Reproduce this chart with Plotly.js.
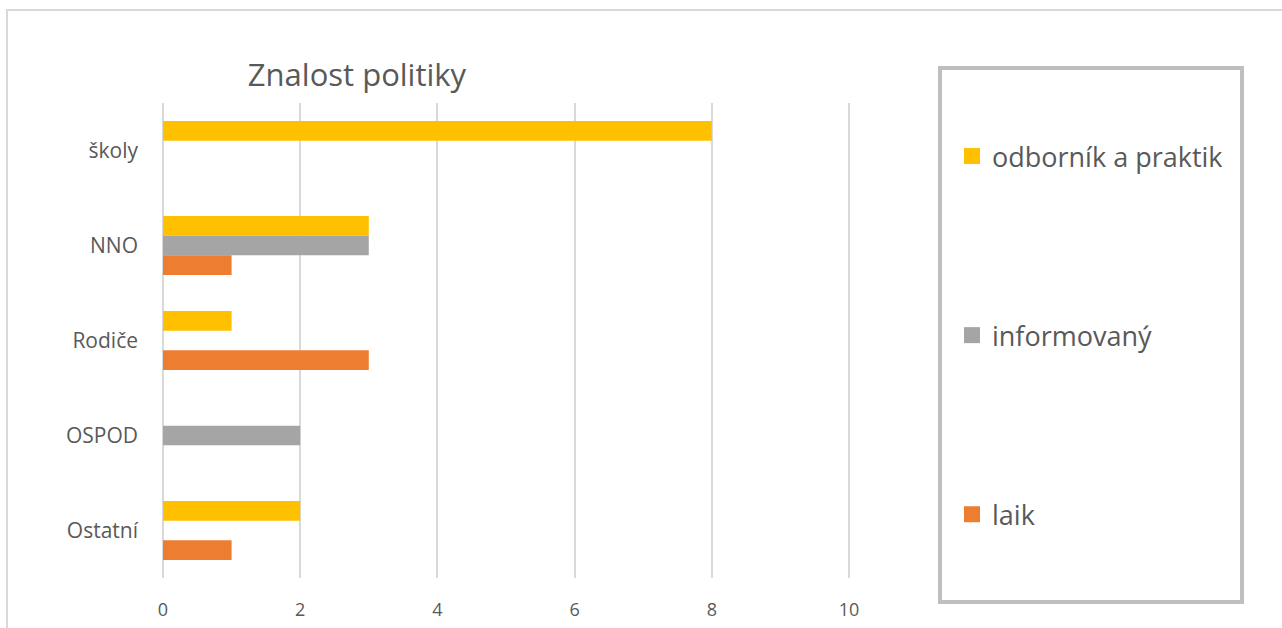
<!DOCTYPE html>
<html>
<head>
<meta charset="utf-8">
<script src="https://cdn.plot.ly/plotly-3.0.1.min.js"></script>
<style>html,body{margin:0;padding:0;background:#fff;}#chart{width:1282px;height:628px;}</style>
</head>
<body>
<div id="chart"></div>
<script>
const categories = ["školy", "NNO", "Rodiče", "OSPOD", "Ostatní"];
const seriesNames = ["odborník a praktik", "informovaný", "laik"];
const odbornik = [8, 3, 1, null, 2];
const informovany = [null, 3, null, 2, null];
const laik = [null, 1, 3, null, 1];
const seriesColors = ["#FFC000", "#A5A5A5", "#ED7D31"];
const xTicks = [0, 2, 4, 6, 8, 10];
const chartTitle = "Znalost politiky";

const seriesValues = [odbornik, informovany, laik];
const FONT = "Open Sans, Liberation Sans, sans-serif";

const traces = [];
seriesValues.forEach((vals, i) => {
  traces.push({
    type: "bar", orientation: "h",
    y: categories, x: vals,
    name: seriesNames[i],
    marker: {color: seriesColors[i]},
    showlegend: false,
    hoverinfo: "x+y+name"
  });
});
seriesValues.forEach((vals, i) => {
  traces.push({
    type: "scatter", mode: "markers",
    x: [null], y: [null],
    name: seriesNames[i],
    legendgroup: "g" + i,
    marker: {symbol: "square", size: 16, color: seriesColors[i]},
    showlegend: true
  });
});

const W = 687, H = 475, L = 163, T = 103;
const px = v => (v - L) / W;
const py = v => (T + H - v) / H;

const layout = {
  width: 1282, height: 628,
  margin: {l: L, r: 1282 - L - W, t: T, b: 628 - T - H},
  paper_bgcolor: "#ffffff", plot_bgcolor: "#ffffff",
  font: {family: FONT, color: "#595959"},
  barmode: "group",
  bargap: 0.38,
  bargroupgap: 0,
  title: {
    text: chartTitle,
    font: {family: FONT, size: 31, color: "#595959"},
    x: px(357), xref: "paper", xanchor: "center",
    y: 1 - 75/628, yref: "container", yanchor: "middle"
  },
  xaxis: {
    range: [0, 10.015],
    tickvals: xTicks,
    ticktext: xTicks.map(String),
    showgrid: true, gridcolor: "#d9d9d9", gridwidth: 1.5,
    zeroline: true, zerolinecolor: "#d9d9d9", zerolinewidth: 1.5,
    showline: false,
    ticks: "",
    ticklabelstandoff: 19,
    tickfont: {family: FONT, size: 18, color: "#595959"},
    fixedrange: true
  },
  yaxis: {
    type: "category",
    categoryorder: "array", categoryarray: categories,
    autorange: "reversed",
    showgrid: false, zeroline: false, showline: false,
    ticks: "",
    ticklabelstandoff: 24,
    tickfont: {family: FONT, size: 21, color: "#595959"},
    fixedrange: true
  },
  showlegend: true,
  legend: {
    x: px(952), xanchor: "left",
    y: py(132), yanchor: "top",
    traceorder: "grouped",
    tracegroupgap: 141,
    font: {family: FONT, size: 27, color: "#595959"},
    bgcolor: "rgba(0,0,0,0)",
    borderwidth: 0,
    itemclick: false, itemdoubleclick: false
  },
  shapes: [
    {type: "rect", xref: "paper", yref: "paper",
     x0: px(7), x1: px(1300),
     y0: py(700), y1: py(10),
     line: {color: "#d9d9d9", width: 2}, layer: "below"},
    {type: "rect", xref: "paper", yref: "paper",
     x0: px(940), x1: px(1242),
     y0: py(602), y1: py(68),
     line: {color: "#bfbfbf", width: 4}, layer: "below"}
  ]
};

Plotly.newPlot("chart", traces, layout, {displayModeBar: false});
</script>
</body>
</html>
